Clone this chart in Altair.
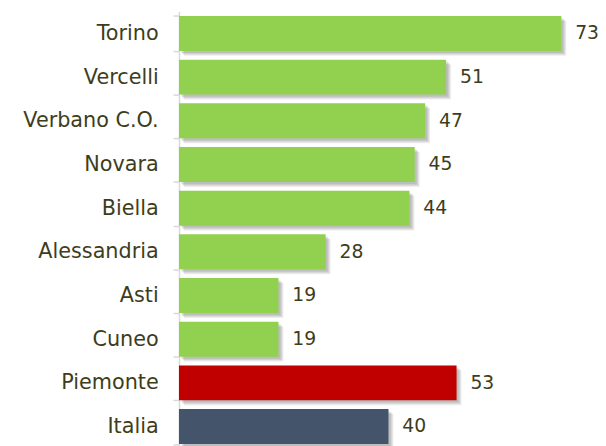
import altair as alt
import pandas as pd

categories = ["Torino", "Vercelli", "Verbano C.O.", "Novara", "Biella",
              "Alessandria", "Asti", "Cuneo", "Piemonte", "Italia"]
values = [73, 51, 47, 45, 44, 28, 19, 19, 53, 40]
colors = ["#92d050"] * 8 + ["#c00000", "#44546a"]

df = pd.DataFrame({"cat": categories, "val": values, "color": colors})

FONT = "DejaVu Sans"
TXT = "#3d3d1c"

y_enc = alt.Y("cat:N", sort=categories, title=None,
              scale=alt.Scale(paddingInner=0.2, paddingOuter=0.1),
              axis=alt.Axis(labelFont=FONT, labelFontSize=21, labelColor=TXT,
                            labelPadding=15, domainColor="#d9d9d9", domainWidth=1.5,
                            tickColor="#d9d9d9", tickSize=6, tickWidth=1.5,
                            tickBand="extent", grid=False))
x_enc = alt.X("val:Q", title=None, scale=alt.Scale(domain=[0, 80]), axis=None)

base = alt.Chart(df).encode(y=y_enc, x=x_enc)

shadows = [
    base.mark_bar(color="#000000", opacity=0.07, xOffset=o, yOffset=o)
    for o in (2, 3, 4, 5)
]
bars = base.mark_bar().encode(color=alt.Color("color:N", scale=None))
labels = base.mark_text(align="left", dx=14, font=FONT, fontSize=19, color=TXT).encode(
    text=alt.Text("val:Q"))

chart = alt.layer(*shadows, bars, labels).properties(
    width=424, height=442,
    autosize=alt.AutoSizeParams(type="none"),
    padding={"left": 173, "top": 1, "right": 0, "bottom": 0},
).configure_view(stroke=None)

chart.save("out.html", embed_options={"renderer": "svg", "actions": False})
